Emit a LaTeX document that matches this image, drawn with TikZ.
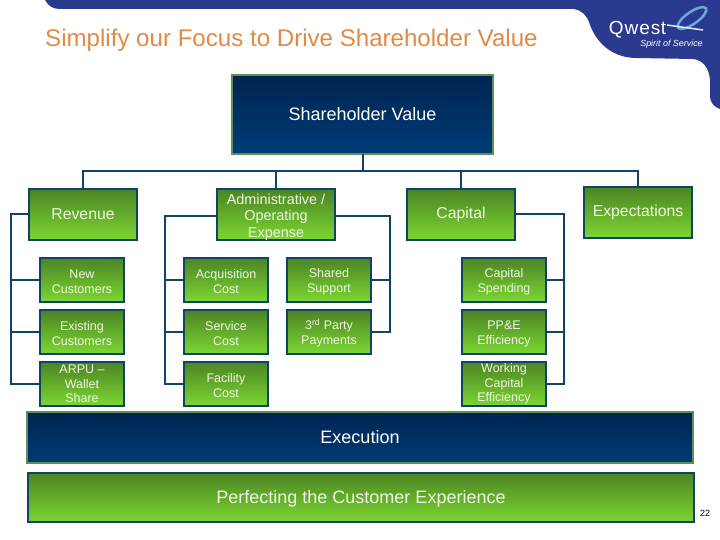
\documentclass[tikz,border=0pt]{standalone}
\usepackage{fontspec}
\setmainfont{Liberation Sans}
\usepackage{tikz}

\definecolor{qwestblue}{HTML}{2A3A8E}
\definecolor{titleorange}{HTML}{E08A45}
\definecolor{linkblue}{HTML}{0E4468}
\definecolor{rimgreen}{HTML}{5F8F58}
\definecolor{paletext}{HTML}{EEF7E2}
\definecolor{swooshblue}{HTML}{6FA8DC}

\newcommand{\lowline}{\rule{0pt}{12.5pt}}

\tikzset{
    greenbox/.style={draw=linkblue,line width=2pt,top color={rgb,255:red,76;green,132;blue,36},bottom color={rgb,255:red,124;green,214;blue,50},
        text=paletext,inner sep=0pt,outer sep=0pt,align=center},
    bluebox/.style={draw=rimgreen,line width=2pt,top color={rgb,255:red,0;green,36;blue,80},bottom color={rgb,255:red,0;green,60;blue,120},
        text=white,inner sep=0pt,outer sep=0pt,align=center,font=\fontsize{18}{21}\selectfont},
    headbox/.style={greenbox,minimum width=108pt,minimum height=51pt,font=\fontsize{15.8}{16.5}\selectfont},
    subbox/.style={greenbox,minimum width=84pt,minimum height=44pt,font=\fontsize{12.5}{14.5}\selectfont},
    link/.style={draw=linkblue,line width=2pt}
}

\begin{document}
\begin{tikzpicture}[x=1pt,y=-1pt]
    \useasboundingbox (0,0) rectangle (720,540);

    % banner and logo
    \fill [qwestblue] (45,0) .. controls (48,6) and (53,9) .. (60,9) -- (573,9)
        .. controls (582,10) and (586,15) .. (589,22) .. controls (594,38) and (608,58) .. (637,58)
        -- (693,59) .. controls (703,60) and (709,68) .. (710,80) -- (710,95)
        .. controls (710,103) and (714,107) .. (720,109) -- (720,0) -- cycle;
    \draw [swooshblue,line width=2.5pt,rotate around={35:(692,18)}] (692,18) ellipse (17 and 6);
    \draw [white!85!cyan,line width=1.5pt] (667,25)--(703,30);
    \node (logoname) [text=white,font=\fontsize{19}{19}\selectfont,inner sep=0pt] at (637.5,30) {Q\kern1pt w\kern1pt e\kern1pt s\kern.5pt t};
    \node (logotag) [text=white,font=\fontsize{8.9}{9}\selectfont\itshape,inner sep=0pt] at (671.5,44) {Spirit of Service};

    \node (title) [text=titleorange,font=\fontsize{24.1}{28}\selectfont,inner sep=0pt,anchor=west] at (45,40) {Simplify our Focus to Drive Shareholder Value};

    \node (value) [bluebox,minimum width=261pt,minimum height=79pt] at (362.5,114.5) {Shareholder Value};

    \node (revenue) [headbox] at (83,214.5) {Revenue};
    \node (admin) [headbox,minimum width=118pt,font=\fontsize{14.4}{16.5}\selectfont] at (276,214.5) {\rule{0pt}{15pt}Administrative /\\Operating\\Expense};
    \node (capital) [headbox] at (461,214.5) {Capital};
    \node (expect) [headbox] at (638,212.5) {Expectations};

    \node (newcust) [subbox] at (82,280) {\lowline New\\Customers};
    \node (existing) [subbox] at (82,332) {\lowline Existing\\Customers};
    \node (arpu) [subbox] at (82,384) {ARPU --\\Wallet\\Share};

    \node (acquire) [subbox] at (226,280) {\lowline Acquisition\\Cost};
    \node (service) [subbox] at (226,332) {\lowline Service\\Cost};
    \node (facility) [subbox] at (226,384) {\lowline Facility\\Cost};

    \node (shared) [subbox] at (329,280) {\lowline Shared\\Support};
    \node (party) [subbox] at (329,332) {\lowline 3\textsuperscript{rd} Party\\Payments};

    \node (spending) [subbox] at (504,280) {\lowline Capital\\Spending};
    \node (ppe) [subbox] at (504,332) {\lowline PP\&E\\Efficiency};
    \node (working) [subbox] at (504,384) {Working\\Capital\\Efficiency};

    \node (execution) [bluebox,minimum width=666pt,minimum height=51pt] at (360,437.5) {Execution};
    \node (perfect) [greenbox,minimum width=666pt,minimum height=49pt,font=\fontsize{18}{21}\selectfont] at (361,497.5) {\rule{0pt}{15.5pt}Perfecting the Customer Experience};

    \node (pagenum) [font=\fontsize{9}{9}\selectfont,inner sep=0pt] at (705,513) {22};

    % rails
    \coordinate (busrail) at (363,171);
    \coordinate (revrail) at (11,214);
    \coordinate (adminrail) at (165,216);
    \coordinate (sharedrail) at (390,216);
    \coordinate (caprail) at (564,214);

    \draw [link] (busrail |- value.south) -- (busrail);
    \draw [link] (revenue.north) |- (busrail) -| (expect.north);
    \draw [link] (admin.north) -- (admin.north |- busrail);
    \draw [link] (capital.north) -- (capital.north |- busrail);

    \draw [link] (revenue.west |- revrail) -- (revrail) |- (arpu.west);
    \draw [link] (newcust.west) -- (newcust.west -| revrail);
    \draw [link] (existing.west) -- (existing.west -| revrail);

    \draw [link] (admin.west |- adminrail) -- (adminrail) |- (facility.west);
    \draw [link] (acquire.west) -- (acquire.west -| adminrail);
    \draw [link] (service.west) -- (service.west -| adminrail);

    \draw [link] (admin.east |- sharedrail) -- (sharedrail) |- (party.east);
    \draw [link] (shared.east) -- (shared.east -| sharedrail);

    \draw [link] (capital.east |- caprail) -- (caprail) |- (working.east);
    \draw [link] (spending.east) -- (spending.east -| caprail);
    \draw [link] (ppe.east) -- (ppe.east -| caprail);
\end{tikzpicture}
\end{document}
